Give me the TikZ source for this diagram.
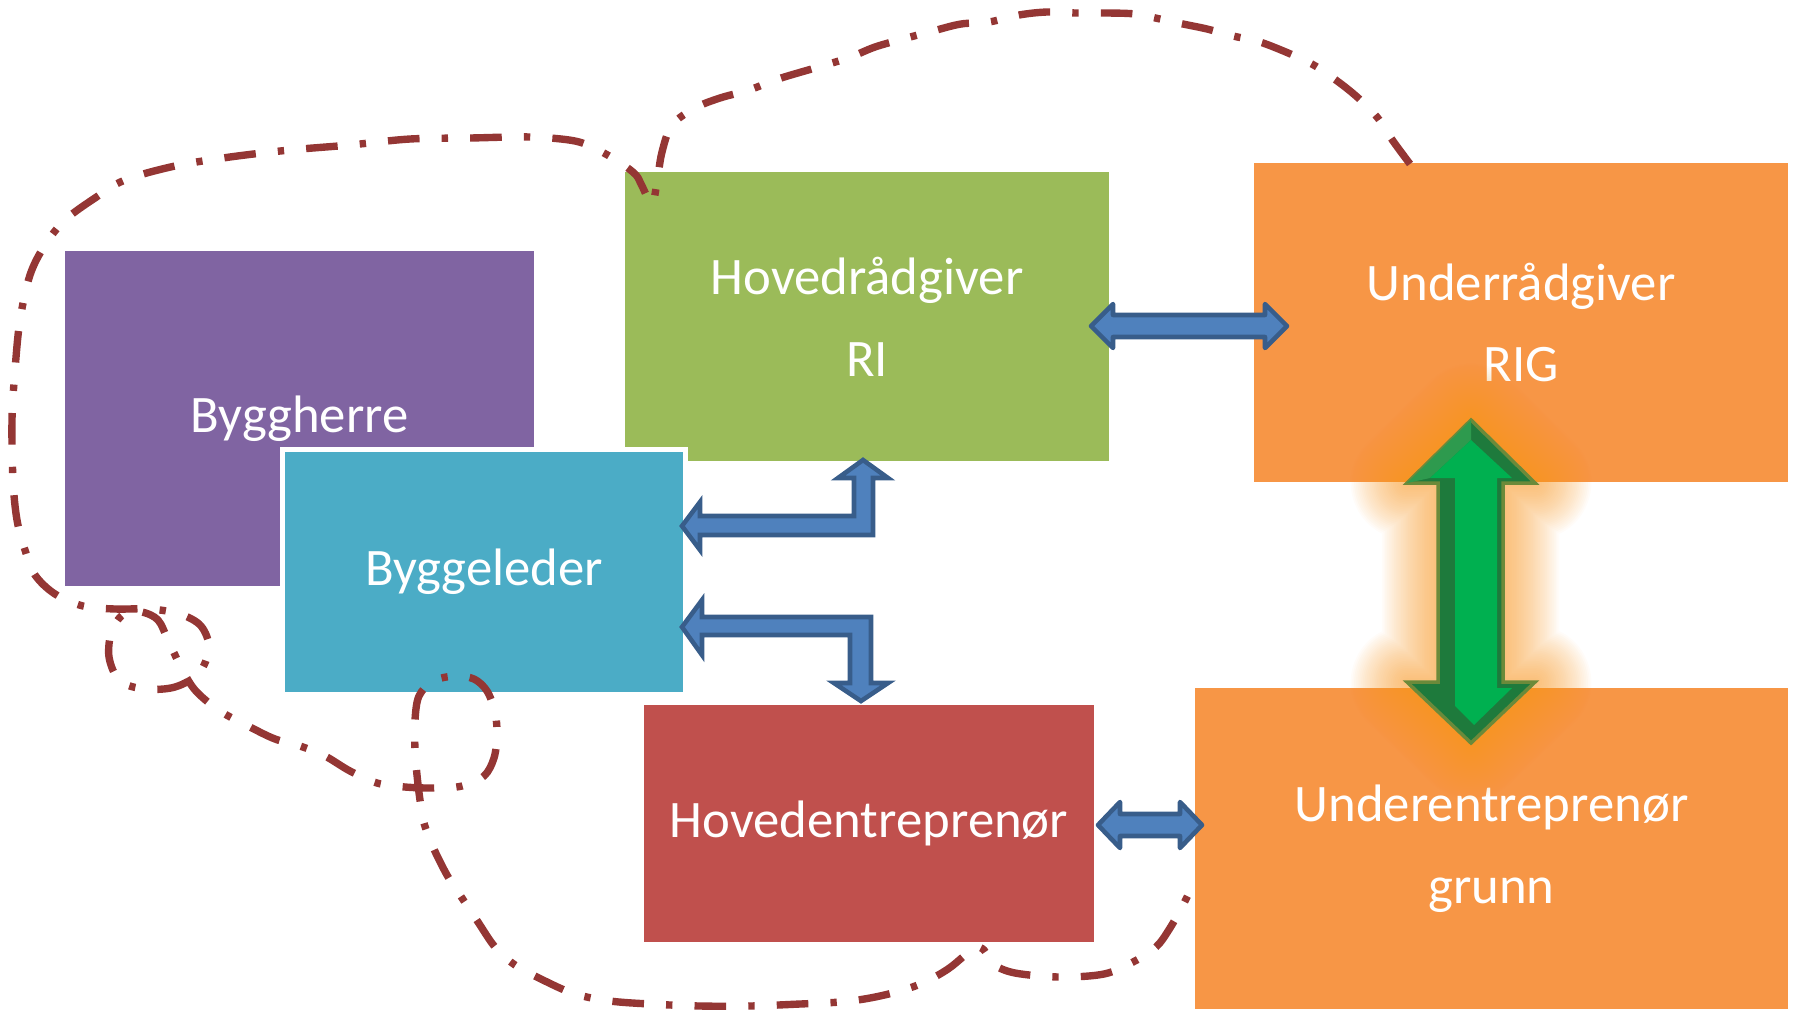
\documentclass[tikz,border=0pt]{standalone}
\usepackage{fontspec}
\setmainfont{Carlito}
\definecolor{byggherre}{HTML}{8064A2}
\definecolor{byggeleder}{HTML}{4BACC6}
\definecolor{hovedraad}{HTML}{9BBB59}
\definecolor{underfarge}{HTML}{F79646}
\definecolor{hovedentr}{HTML}{C0504D}
\definecolor{pilfyll}{HTML}{4F81BD}
\definecolor{pilkant}{HTML}{385D8A}
\definecolor{kurve}{HTML}{943634}
\definecolor{gronnlys}{HTML}{00B050}
\definecolor{gronnmid}{HTML}{2E9A4E}
\definecolor{gronnmork}{HTML}{1E7A3C}
\definecolor{gronnkant}{HTML}{6B8A3A}
\definecolor{glod}{HTML}{F7941E}
\begin{document}
\begin{tikzpicture}[x=0.1mm, y=-0.1mm,
  box/.style={inner sep=0pt, text=white, align=center, font=\fontsize{15}{23.3}\selectfont},
  blokkpil/.style={fill=pilfyll, draw=pilkant, line width=1.3pt, line join=miter},
  strek/.style={draw=kurve, line width=2.1pt, dash pattern=on 9pt off 6.3pt on 1.8pt off 6.3pt}]
\useasboundingbox (0,0) rectangle (1797,1009);

\node[box, fill=byggherre, minimum width=46.9mm, minimum height=33.5mm] (byggherre) at (299.5,418.5) {Byggherre};
\node[box, fill=hovedraad, minimum width=48.4mm, minimum height=28.9mm] (hovedraad) at (867,316.5) {Hovedrådgiver\\RI};
\node[box, fill=underfarge, minimum width=53.4mm, minimum height=31.9mm] (underraad) at (1521,322.5) {Underrådgiver\\RIG};
\node[box, fill=hovedentr, minimum width=45mm, minimum height=23.7mm] (hovedentr) at (869,823.5) {Hovedentreprenør};
\node[box, fill=underfarge, minimum width=59.3mm, minimum height=32.1mm] (underentr) at (1491.5,848.5) {Underentreprenør\\grunn};
\node[box, fill=byggeleder, draw=white, line width=1.4pt, minimum width=40.3mm, minimum height=24.5mm] (byggeleder) at (484,572) {Byggeleder};

\draw[blokkpil, line join=round] (1091,326) -- (1113,304) -- (1113,315) -- (1265,315) -- (1265,304) -- (1287,326) -- (1265,348) -- (1265,337) -- (1113,337) -- (1113,348) -- cycle;
\draw[blokkpil, line join=round] (1098,825) -- (1120,802) -- (1120,814) -- (1180,814) -- (1180,802) -- (1202,825) -- (1180,848) -- (1180,836) -- (1120,836) -- (1120,848) -- cycle;
\draw[blokkpil] (682,526) -- (700,502) -- (700,516) -- (854,516) -- (854,478) -- (838,478) -- (863,460) -- (888,478) -- (873,478) -- (873,535) -- (700,535) -- (700,550) -- cycle;
\draw[blokkpil] (682,627) -- (702,600) -- (702,617) -- (871,617) -- (871,683) -- (888,683) -- (861,701) -- (834,683) -- (850,683) -- (850,635) -- (702,635) -- (702,655) -- cycle;

\foreach \w in {2,3,...,32}
  \draw[glod, opacity=0.028, line width=\w pt, line join=round] (1471,420) -- (1535,483) -- (1503,483) -- (1503,682) -- (1535,682) -- (1471,743) -- (1407,682) -- (1438,682) -- (1438,483) -- (1407,483) -- cycle;
\draw[fill=gronnmork, draw=gronnkant, line width=1pt] (1471,420) -- (1535,483) -- (1503,483) -- (1503,682) -- (1535,682) -- (1471,743) -- (1407,682) -- (1438,682) -- (1438,483) -- (1407,483) -- cycle;
\fill[gronnmid] (1407,483) -- (1471,420) -- (1471,440) -- (1430,478) -- cycle;
\fill[gronnlys] (1471,440) -- (1512,478) -- (1497,478) -- (1497,688) -- (1512,688) -- (1474,725) -- (1455,706) -- (1455,478) -- (1430,478) -- cycle;

\draw[strek] plot[smooth, tension=0.55] coordinates {(1410,164) (1393,141) (1377,117) (1356,96) (1333,78) (1308,62) (1263,43) (1233,36) (1207,29) (1183,24) (1160,19) (1135,14) (1107,13) (1076,13) (1047,12) (1019,15) (989,22) (961,24) (933,31) (903,39) (875,47) (848,58) (815,68) (778,79) (749,90) (720,98) (695,108) (672,125) (662,152) (657,182) (652,204) (642,186) (636,175) (622,164) (600,151) (575,141) (530,137) (470,138) (410,139) (350,145) (290,150) (230,157) (175,166) (125,180) (95,198) (65,220) (45,245) (30,275) (20,320) (15,370) (12,420) (13,480) (17,520) (25,550) (35,575) (55,594) (83,606) (115,609) (150,609) (180,614) (201,626) (209,648) (199,673) (175,687) (145,689) (120,681) (109,657) (112,630) (125,613) (142,612) (158,620) (168,640) (180,665) (195,690) (220,711) (250,727) (275,739) (300,746) (325,756) (350,771) (377,783) (405,787) (435,788) (462,786) (484,776) (494,758) (497,735) (495,712) (487,691) (474,679) (455,676) (433,681) (419,696) (415,720) (415,750) (417,775) (420,800) (424,823) (433,847) (447,875) (462,898) (478,922) (495,947) (515,965) (545,981) (575,994) (610,1001) (650,1004) (700,1006) (750,1006) (800,1004) (840,1002) (870,998) (900,991) (925,982) (948,969) (964,956) (975,947) (984,950) (993,964) (1015,973) (1060,977) (1104,974) (1133,962) (1156,947) (1170,928) (1184,903) (1196,878)};
\end{tikzpicture}
\end{document}
